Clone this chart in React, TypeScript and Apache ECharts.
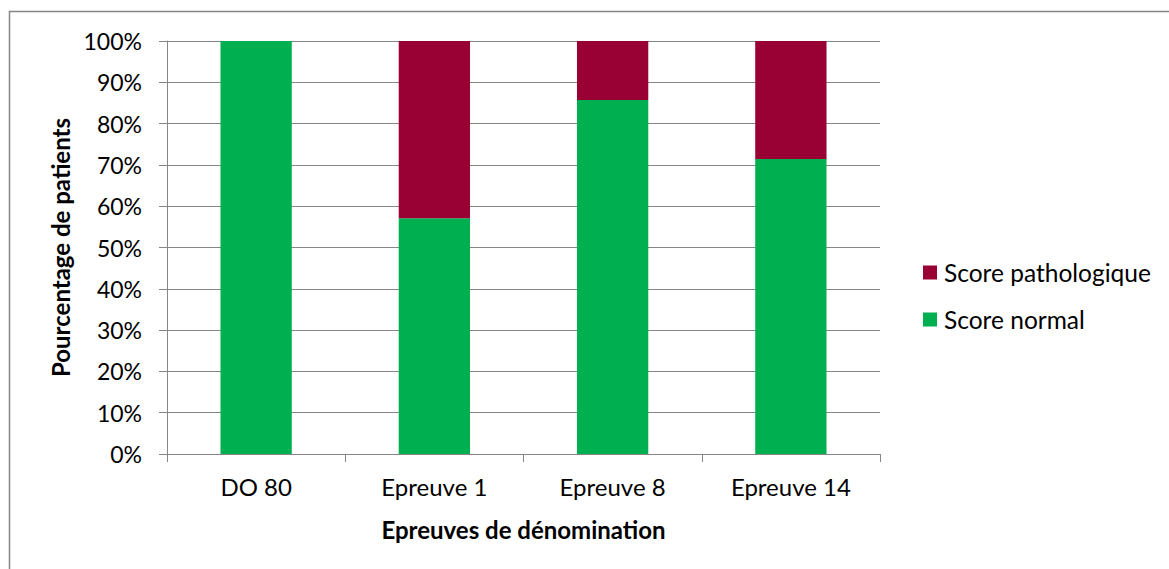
import React, { useEffect, useRef } from "react";
import * as echarts from "echarts";

const categories = ["DO 80", "Epreuve 1", "Epreuve 8", "Epreuve 14"];
const scoreNormal = [100, 57.1, 85.7, 71.4];
const scorePathologique = [0, 42.9, 14.3, 28.6];
const seriesNames = ["Score pathologique", "Score normal"];

const FONT = "Lato, 'Open Sans', sans-serif";
const FS = 24;

export default function App() {
  const ref = useRef<HTMLDivElement>(null);
  useEffect(() => {
    if (!ref.current) return;
    const chart = echarts.init(ref.current, null, { renderer: "svg" });
    chart.setOption({
      animation: false,
      backgroundColor: "#ffffff",
      graphic: [
        {
          type: "rect",
          shape: { x: 9.5, y: 11.5, width: 1200, height: 600 },
          style: { fill: "none", stroke: "#868686", lineWidth: 1.5 },
          silent: true,
        },
      ],
      grid: { left: 167, top: 41, width: 713, height: 413, containLabel: false },
      legend: {
        orient: "vertical",
        left: 923,
        top: 260,
        padding: 0,
        itemWidth: 14,
        itemHeight: 14,
        itemGap: 22,
        icon: "rect",
        data: seriesNames,
        textStyle: { fontFamily: FONT, fontSize: 24.5, color: "#000", padding: [0, 0, 0, 2] },
      },
      xAxis: {
        type: "category",
        data: categories,
        axisLine: { lineStyle: { color: "#868686", width: 1 } },
        axisTick: { show: true, length: 8, alignWithLabel: false, lineStyle: { color: "#868686" } },
        axisLabel: { fontFamily: FONT, fontSize: FS, color: "#000", margin: 20 },
        name: "Epreuves de dénomination",
        nameLocation: "middle",
        nameGap: 63,
        nameTextStyle: { fontFamily: FONT, fontSize: FS, fontWeight: "bold", color: "#000" },
      },
      yAxis: {
        type: "value",
        min: 0,
        max: 100,
        interval: 10,
        axisLine: { show: true, lineStyle: { color: "#868686", width: 1 } },
        axisTick: { show: true, length: 8, lineStyle: { color: "#868686" } },
        splitLine: { lineStyle: { color: "#868686", width: 1 } },
        axisLabel: { fontFamily: FONT, fontSize: 23, color: "#000", margin: 25, formatter: "{value}%" },
        name: "Pourcentage de patients",
        nameLocation: "middle",
        nameGap: 95,
        nameTextStyle: { fontFamily: FONT, fontSize: FS, fontWeight: "bold", color: "#000" },
      },
      series: [
        {
          name: "Score normal",
          type: "bar",
          stack: "total",
          barWidth: "40%",
          data: scoreNormal,
          itemStyle: { color: "#00B050" },
        },
        {
          name: "Score pathologique",
          type: "bar",
          stack: "total",
          barWidth: "40%",
          data: scorePathologique,
          itemStyle: { color: "#990033" },
        },
      ],
    });
    return () => chart.dispose();
  }, []);
  return (
    <div
      ref={ref}
      style={{ position: "fixed", left: 0, top: 0, width: 1169, height: 569 }}
    />
  );
}
